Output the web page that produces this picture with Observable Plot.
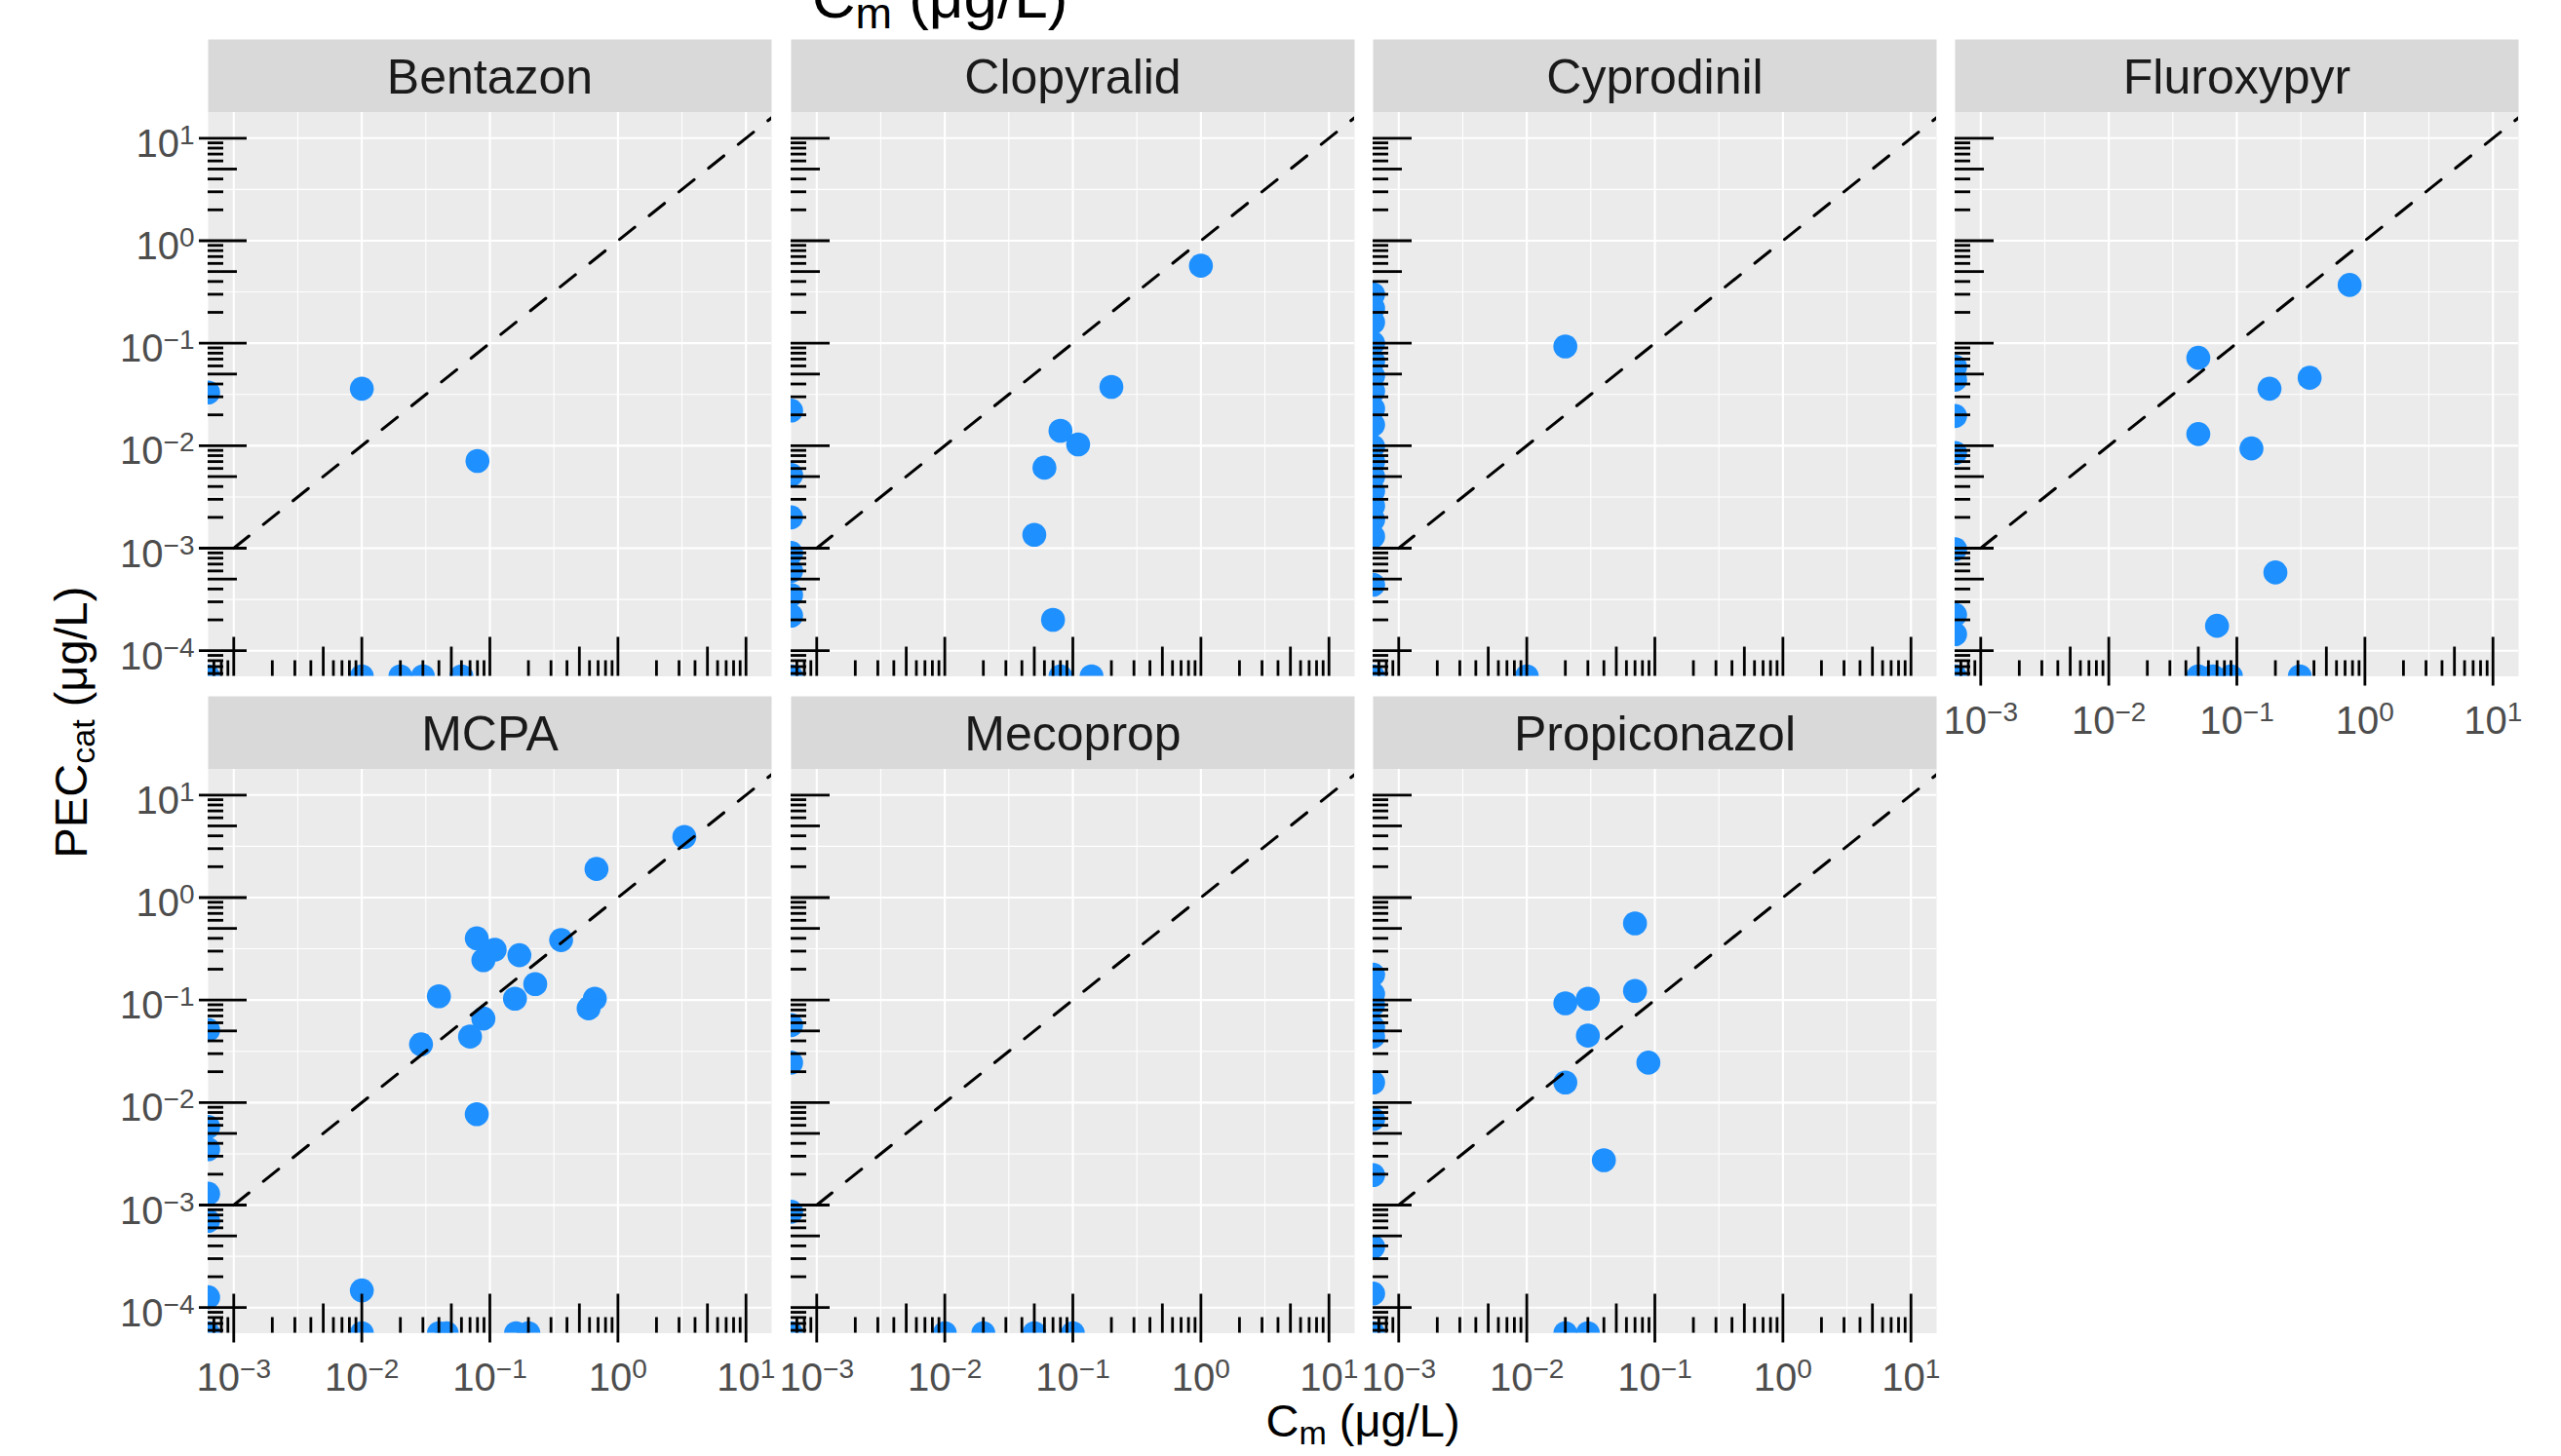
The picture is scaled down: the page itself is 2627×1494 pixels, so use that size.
<!DOCTYPE html>
<html>
<head>
<meta charset="utf-8">
<script src="https://cdn.jsdelivr.net/npm/d3@7"></script>
<script src="https://cdn.jsdelivr.net/npm/@observablehq/plot@0.6"></script>
<style>
  html, body { margin: 0; padding: 0; background: #fff; overflow: hidden; }
  #chart { position: relative; width: 2627px; height: 1494px; overflow: hidden; background: #fff; }
  #chart svg { position: absolute; }
  #chart text { white-space: pre; }
</style>
</head>
<body>
<div id="chart"></div>
<script>
// ---------------- data (0 = below detection, drawn at the panel edge) ----------------
const compounds = ["Bentazon", "Clopyralid", "Cyprodinil", "Fluroxypyr", "MCPA", "Mecoprop", "Propiconazol"];

const bentazonCm  = [0.01, 0.08, 0, 0.01, 0.02, 0.03, 0.06, 0];
const bentazonPec = [0.036, 0.0071, 0.033, 0, 0, 0, 0, 0];

const clopyralidCm  = [1.0, 0.2, 0.08, 0.11, 0.06, 0.05, 0.07, 0.08, 0.14, 0, 0, 0, 0, 0, 0, 0, 0];
const clopyralidPec = [0.57, 0.0375, 0.014, 0.0103, 0.0061, 0.00135, 0.0002, 0, 0, 0.022, 0.0052, 0.002, 0.0009, 0.0006, 0.00035, 0.00022, 0];

const cyprodinilCm  = [0.02, 0.01, 0, 0, 0, 0, 0, 0, 0, 0, 0, 0, 0, 0, 0, 0, 0, 0, 0, 0];
const cyprodinilPec = [0.093, 0, 0.3, 0.22, 0.16, 0.1, 0.067, 0.048, 0.034, 0.023, 0.016, 0.0098, 0.007, 0.005, 0.0036, 0.0026, 0.0019, 0.0013, 0.00044, 0];

const fluroxypyrCm  = [0.76, 0.05, 0.37, 0.18, 0.05, 0.13, 0.2, 0.07, 0.05, 0.065, 0.09, 0.31, 0, 0, 0, 0, 0, 0, 0, 0];
const fluroxypyrPec = [0.37, 0.072, 0.046, 0.036, 0.013, 0.0094, 0.00058, 0.000175, 0, 0, 0, 0, 0.059, 0.044, 0.0195, 0.0085, 0.00098, 0.000224, 0.000145, 0];

const mcpaCm  = [3.3, 0.68, 0.079, 0.36, 0.109, 0.089, 0.17, 0.226, 0.04, 0.157, 0.66, 0.59, 0.089, 0.07, 0.029, 0.079, 0.01,
                 0.01, 0.04, 0.046, 0.16, 0.2, 0, 0, 0, 0, 0, 0, 0];
const mcpaPec = [3.9, 1.9, 0.40, 0.385, 0.31, 0.245, 0.274, 0.143, 0.109, 0.103, 0.103, 0.083, 0.066, 0.044, 0.037, 0.0077, 0.000147,
                 0, 0, 0, 0, 0, 0.051, 0.0058, 0.0035, 0.00129, 0.0007, 0.000126, 0];

const mecopropCm  = [0, 0, 0, 0.01, 0.02, 0.05, 0.1, 0];
const mecopropPec = [0.057, 0.0245, 0.00086, 0, 0, 0, 0, 0];

const propiconazolCm  = [0.07, 0.07, 0.03, 0.02, 0.03, 0.089, 0.02, 0.04, 0.02, 0.03, 0, 0, 0, 0, 0, 0, 0, 0, 0, 0, 0];
const propiconazolPec = [0.56, 0.123, 0.103, 0.093, 0.045, 0.0245, 0.0157, 0.00274, 0, 0, 0.177, 0.115, 0.09, 0.0545, 0.044, 0.0157, 0.0069, 0.00196, 0.00039, 0.000137, 0];

const cmSeries  = [bentazonCm, clopyralidCm, cyprodinilCm, fluroxypyrCm, mcpaCm, mecopropCm, propiconazolCm];
const pecSeries = [bentazonPec, clopyralidPec, cyprodinilPec, fluroxypyrPec, mcpaPec, mecopropPec, propiconazolPec];

// axis breaks and labels
const xLimits = [0.001, 10];
const yLimits = [0.0001, 10];
const xBreaks = [0.001, 0.01, 0.1, 1, 10];
const xBreakLabels = ["10^\u22123", "10^\u22122", "10^\u22121", "10^0", "10^1"];
const xMinorBreaks = [0.003162, 0.03162, 0.3162, 3.162];
const yBreaks = [0.0001, 0.001, 0.01, 0.1, 1, 10];
const yBreakLabels = ["10^\u22124", "10^\u22123", "10^\u22122", "10^\u22121", "10^0", "10^1"];
const yMinorBreaks = [0.0003162, 0.003162, 0.03162, 0.3162, 3.162];
const identityLine = [0.001, 100];

// ---------------- layout / style ----------------
const FONT = "Liberation Sans, Arial, Helvetica, sans-serif";
const NCOL = 4;
const panelLefts = [213, 810.5, 1407.5, 2004.5];
const panelTops = [114.8, 788.5];
const W = 578, H = 578.5, STRIP = 75;
const ML = 200, MR = 20, MT = 85, MB = 85;
const LONG = 40, MID = 30, SHORT = 16;
const LABEL_SIZE = 40, EXP_SIZE = 28, EXP_RAISE = 13;

// ggplot default expansion: 5% of the (log) range on each side
function expand(lim) {
  const l = lim.map(Math.log10), pad = 0.05 * (l[1] - l[0]);
  return [Math.pow(10, l[0] - pad), Math.pow(10, l[1] + pad)];
}
const xDomain = expand(xLimits);
const yDomain = expand(yLimits);

const logTicksX = d3.scaleLog().domain(xDomain).ticks();
const logTicksY = d3.scaleLog().domain(yDomain).ticks();
const mant = v => Math.round(v / Math.pow(10, Math.floor(Math.log10(v) + 1e-9)));
const isLong = v => mant(v) === 1, isMid = v => mant(v) === 5, isShort = v => !isLong(v) && !isMid(v);

function superscripts(svg) {
  svg.querySelectorAll("text").forEach(t => {
    const m = /^10\^(.+)$/.exec(t.textContent);
    if (!m) return;
    t.textContent = "10";
    const s = document.createElementNS("http://www.w3.org/2000/svg", "tspan");
    s.setAttribute("font-size", EXP_SIZE);
    s.setAttribute("dy", -EXP_RAISE);
    s.textContent = m[1];
    t.appendChild(s);
  });
}

function panel(name, cm, pec, i) {
  const col = i % NCOL, row = Math.floor(i / NCOL);
  const showX = i + NCOL >= compounds.length;
  const showY = col === 0;
  const points = cm.map((c, j) => ({cm: c, pec: pec[j]}));
  const tick = {stroke: "black", strokeWidth: 2.8};
  const marks = [
    Plot.frame({fill: "#D9D9D9", stroke: "none", insetTop: -STRIP, insetBottom: H}),
    Plot.frame({fill: "#EBEBEB", stroke: "none"}),
    Plot.ruleX(xMinorBreaks, {stroke: "white", strokeWidth: 1.1}),
    Plot.ruleY(yMinorBreaks, {stroke: "white", strokeWidth: 1.1}),
    Plot.ruleX(xBreaks, {stroke: "white", strokeWidth: 2.1}),
    Plot.ruleY(yBreaks, {stroke: "white", strokeWidth: 2.1}),
    Plot.dot(points, {
      x: d => d.cm > 0 ? d.cm : xDomain[0],
      y: d => d.pec > 0 ? d.pec : yDomain[0],
      r: 12.3, fill: "#1E90FF", stroke: "none", clip: true
    }),
    Plot.line(identityLine, {x: d => d, y: d => d, stroke: "black", strokeWidth: 3.1, strokeDasharray: "20,19", clip: true}),
    Plot.ruleX(logTicksX.filter(isLong), {...tick, insetTop: H - LONG, insetBottom: showX ? -10 : 0}),
    Plot.ruleX(logTicksX.filter(isMid), {...tick, insetTop: H - MID}),
    Plot.ruleX(logTicksX.filter(isShort), {...tick, insetTop: H - SHORT}),
    Plot.ruleY(logTicksY.filter(isLong), {...tick, insetRight: W - LONG, insetLeft: showY ? -9 : 0}),
    Plot.ruleY(logTicksY.filter(isMid), {...tick, insetRight: W - MID}),
    Plot.ruleY(logTicksY.filter(isShort), {...tick, insetRight: W - SHORT}),
    Plot.text([name], {frameAnchor: "top", lineAnchor: "bottom", dy: -19.5, fontSize: 50, fill: "#1A1A1A", fontFamily: FONT})
  ];
  if (showY) marks.push(Plot.text(yBreaks, {
    y: d => d, text: (d, j) => yBreakLabels[j], frameAnchor: "left", textAnchor: "end",
    lineAnchor: "bottom", dx: -14, dy: 19, fontSize: LABEL_SIZE, fill: "#4D4D4D", fontFamily: FONT
  }));
  if (showX) marks.push(Plot.text(xBreaks, {
    x: d => d, text: (d, j) => xBreakLabels[j], frameAnchor: "bottom", textAnchor: "middle",
    lineAnchor: "bottom", dy: 59, fontSize: LABEL_SIZE, fill: "#4D4D4D", fontFamily: FONT
  }));
  const svg = Plot.plot({
    width: ML + W + MR, height: MT + H + MB,
    marginLeft: ML, marginRight: MR, marginTop: MT, marginBottom: MB,
    x: {type: "log", domain: xDomain, axis: null},
    y: {type: "log", domain: yDomain, axis: null},
    marks
  });
  superscripts(svg);
  svg.style.background = "transparent";
  svg.style.maxWidth = "none";
  svg.style.position = "absolute";
  svg.style.left = (panelLefts[col] - ML) + "px";
  svg.style.top = (panelTops[row] - MT) + "px";
  svg.style.width = (ML + W + MR) + "px";
  svg.style.height = (MT + H + MB) + "px";
  svg.style.overflow = "hidden";
  return svg;
}

const chart = document.getElementById("chart");
compounds.forEach((name, i) => chart.appendChild(panel(name, cmSeries[i], pecSeries[i], i)));

// ---------------- axis titles ----------------
const overlay = d3.create("svg")
  .attr("width", 2627).attr("height", 1494)
  .style("left", "0px").style("top", "0px")
  .attr("font-family", FONT);

function mathTitle(x, y, size, main, sub, rest, rotate) {
  const t = overlay.append("text")
    .attr("text-anchor", "middle").attr("font-size", size).attr("fill", "black")
    .attr("transform", `translate(${x},${y})` + (rotate ? " rotate(-90)" : ""));
  t.append("tspan").text(main);
  t.append("tspan").attr("font-size", Math.round(size * 0.72)).attr("dy", size * 0.17).text(sub);
  t.append("tspan").attr("dy", -size * 0.17).text(rest);
}
mathTitle(1398, 1474, 47, "C", "m", " (\u03BCg/L)");
mathTitle(964, 18, 62, "C", "m", " (\u03BCg/L)");
mathTitle(89, 741, 47, "PEC", "cat", " (\u03BCg/L)", true);
chart.appendChild(overlay.node());
</script>
</body>
</html>
